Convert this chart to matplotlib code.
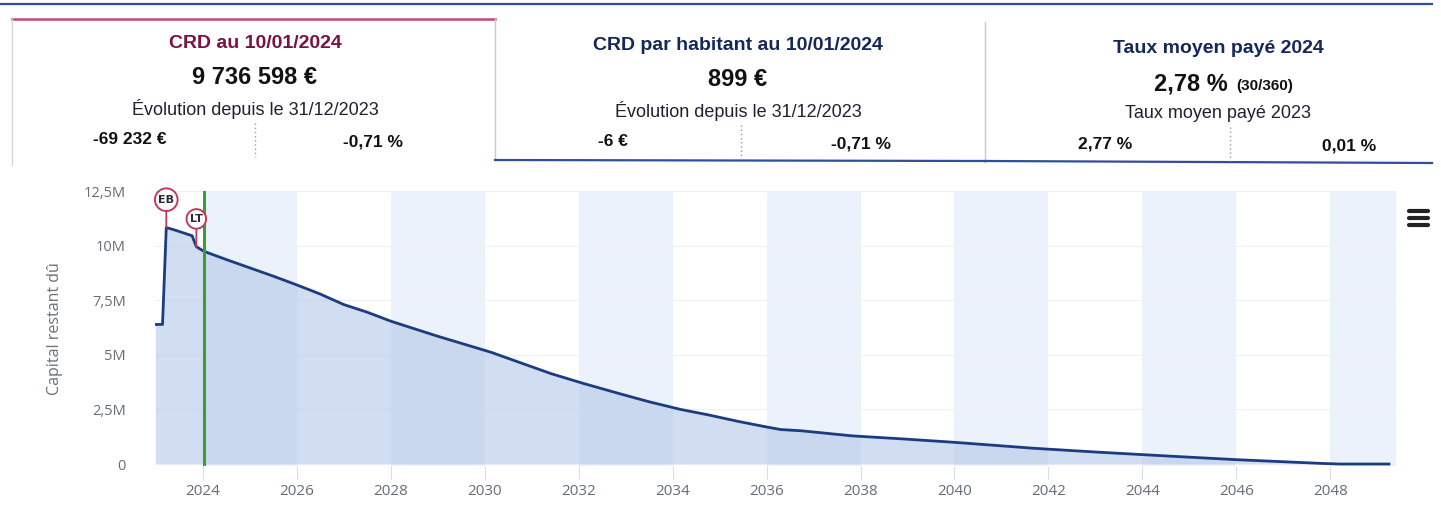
import matplotlib.pyplot as plt
from matplotlib.lines import Line2D

W, H = 1441, 531

# capital restant dû (en millions d'euros)
annees = [2022.99, 2023.14, 2023.22, 2023.45, 2023.77, 2023.86, 2024.02, 2024.5, 2025.0,
          2025.5, 2026.0, 2026.5, 2027.0, 2027.5, 2028.0, 2029.0, 2030.13, 2031.41,
          2032.1, 2032.84, 2033.5, 2034.17, 2034.76, 2035.4, 2036.04, 2036.3, 2036.75,
          2037.82, 2038.9, 2039.96, 2041.7, 2043.0, 2044.6, 2046.0, 2047.8, 2048.2, 2049.25]
crd = [6.39, 6.39, 10.83, 10.68, 10.45, 9.95, 9.74, 9.36, 8.98,
       8.6, 8.2, 7.78, 7.3, 6.95, 6.54, 5.85, 5.12, 4.14,
       3.69, 3.24, 2.85, 2.5, 2.25, 1.95, 1.68, 1.58, 1.52,
       1.29, 1.15, 1.0, 0.72, 0.55, 0.36, 0.2, 0.03, 0.0, 0.0]

ticks_x = list(range(2024, 2050, 2))
ticks_y = [0, 2.5, 5, 7.5, 10, 12.5]
labels_y = ['0', '2,5M', '5M', '7,5M', '10M', '12,5M']

date_jour = 2024.03
drapeaux = [('EB', 2023.22, 10.83), ('LT', 2023.86, 9.95)]

# cartes du haut : titre, valeur, sous-titre, évolution, pourcentage
titres = ['CRD au 10/01/2024', 'CRD par habitant au 10/01/2024', 'Taux moyen payé 2024']
valeurs = ['9 736 598 €', '899 €', '2,78 %']
sous_titres = ['Évolution depuis le 31/12/2023', 'Évolution depuis le 31/12/2023', 'Taux moyen payé 2023']
evol_gauche = ['-69 232 €', '-6 €', '2,77 %']
evol_droite = ['-0,71 %', '-0,71 %', '0,01 %']


def px(x, y):
    return x / W, 1 - y / H


plt.rcParams['font.family'] = ['Open Sans', 'DejaVu Sans']
fig = plt.figure(figsize=(W / 100, H / 100), dpi=100)

ax = fig.add_axes([155 / W, 1 - 466 / H, (1396 - 155) / W, (466 - 191) / H])
ax.set_xlim(2022.98, 2049.4)
ax.set_ylim(-0.09, 12.5)

# bandes alternées
for t in ticks_x[::2]:
    ax.axvspan(t, t + 2, color='#ecf2fb', zorder=0, lw=0)
for t in ticks_y[1:]:
    ax.axhline(t, color='#eef0f3', lw=0.8, zorder=0.5)

ax.fill_between(annees, crd, 0, color='#b9cbea', alpha=0.65, lw=0, zorder=1)
ax.plot(annees, crd, color='#1c3c80', lw=2.0, zorder=3)
ax.axvline(date_jour, color='#3e9c33', lw=2.2, zorder=4)

for lab, xx, yy in drapeaux:
    ax.annotate(lab, xy=(xx, yy), xytext=(0, 20), textcoords='offset points',
                ha='center', va='center', fontsize=8, fontweight='bold', color='#2a2a3a',
                family='DejaVu Sans',
                bbox=dict(boxstyle='circle,pad=0.3', fc='white', ec='#c23a5e', lw=1.4),
                arrowprops=dict(arrowstyle='-', color='#c23a5e', lw=1.3, shrinkA=0, shrinkB=0),
                zorder=6)

ax.set_xticks(ticks_x)
ax.set_xticklabels([str(t) for t in ticks_x])
ax.set_yticks(ticks_y)
ax.set_yticklabels(labels_y)
ax.tick_params(axis='x', length=9, color='#d8dde6', labelsize=11, labelcolor='#666d78', pad=4)
ax.tick_params(axis='y', length=0, labelsize=10.5, labelcolor='#666d78', pad=21)
for s in ax.spines.values():
    s.set_visible(False)
ax.set_ylabel('Capital restant dû', fontsize=11.5, color='#6a717c')
ax.yaxis.set_label_coords(-92 / (1396 - 155), 0.5)

# menu
for yy in (211, 218, 225):
    fig.add_artist(Line2D([1409 / W, 1428 / W], [1 - yy / H] * 2, color='#222', lw=3,
                          solid_capstyle='round'))

# traits des cartes
fig.add_artist(Line2D([0, 1432 / W], [1 - 4 / H] * 2, color='#2f4f9c', lw=1.6))
fig.add_artist(Line2D([12 / W, 495 / W], [1 - 19 / H] * 2, color='#c2457f', lw=1.8))
fig.add_artist(Line2D([12 / W, 12 / W], [1 - 19 / H, 1 - 165 / H], color='#d6d8dc', lw=1))
fig.add_artist(Line2D([495 / W, 495 / W], [1 - 19 / H, 1 - 160 / H], color='#c8cad0', lw=1))
fig.add_artist(Line2D([985 / W, 985 / W], [1 - 22 / H, 1 - 162 / H], color='#c8cad0', lw=1))
fig.add_artist(Line2D([495 / W, 985 / W], [1 - 160 / H, 1 - 161 / H], color='#2f4f9c', lw=1.6))
fig.add_artist(Line2D([985 / W, 1432 / W], [1 - 161 / H, 1 - 163 / H], color='#2f4f9c', lw=1.6))

centres = [255, 738, 1218]
sep = [255, 741, 1230]
gauche = [130, 613, 1105]
droite = [373, 861, 1349]
couleurs_titre = ['#7b1145', '#16275a', '#16275a']
dy = [0, 2, 4]
police = ['Liberation Sans', 'DejaVu Sans']
for i in range(3):
    d = dy[i]
    fig.text(*px(centres[i], 44 + d), titres[i], ha='center', va='center', fontsize=14,
             fontweight='bold', color=couleurs_titre[i], family=police)
    if i < 2:
        fig.text(*px(centres[i], 77 + d), valeurs[i], ha='center', va='center', fontsize=17,
                 fontweight='bold', color='#111', family=police)
    else:
        fig.text(*px(1228, 80 + d), valeurs[i], ha='right', va='center', fontsize=17,
                 fontweight='bold', color='#111', family=police)
        fig.text(*px(1236, 82 + d), '(30/360)', ha='left', va='center', fontsize=11,
                 fontweight='bold', color='#111', family=police)
    fig.text(*px(centres[i], 109 + d), sous_titres[i], ha='center', va='center', fontsize=13,
             color='#1e2230', family=police)
    fig.text(*px(gauche[i], 140 + d), evol_gauche[i], ha='center', va='center', fontsize=12.5,
             fontweight='bold', color='#111', family=police)
    fig.text(*px(droite[i], 142 + d), evol_droite[i], ha='center', va='center', fontsize=12.5,
             fontweight='bold', color='#111', family=police)
    fig.add_artist(Line2D([sep[i] / W] * 2, [1 - (123 + d) / H, 1 - (157 + d) / H],
                          color='#999', lw=1, ls=(0, (1, 2))))

fig.savefig('out.png', dpi=100)
